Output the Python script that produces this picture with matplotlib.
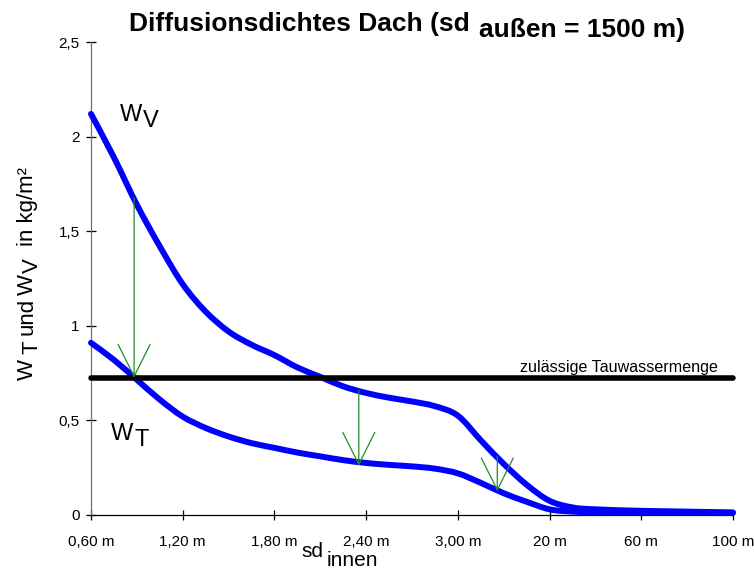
import matplotlib
matplotlib.use('Agg')
from matplotlib import pyplot as plt
from matplotlib.path import Path
from matplotlib.patches import PathPatch
from matplotlib.transforms import IdentityTransform

plt.rcParams['font.family'] = ['Liberation Sans', 'DejaVu Sans']

# category axis (sd innen)
x_labels = ['0,60 m', '1,20 m', '1,80 m', '2,40 m', '3,00 m', '20 m', '60 m', '100 m']

# curve readings, position measured in category steps
pos = [0, 0.25, 0.5, 0.75, 1, 1.25, 1.5, 1.75, 2, 2.25, 2.5, 2.75, 3, 3.25, 3.5,
       3.75, 4, 4.25, 4.5, 4.75, 5, 5.25, 5.5, 6, 6.5, 7]
w_v = [2.12, 1.89, 1.64, 1.42, 1.22, 1.075, 0.97, 0.90, 0.845, 0.78, 0.73, 0.68, 0.645,
       0.62, 0.60, 0.575, 0.525, 0.395, 0.27, 0.16, 0.075, 0.04, 0.03, 0.022, 0.018, 0.013]
w_t = [0.91, 0.82, 0.715, 0.61, 0.52, 0.46, 0.415, 0.38, 0.355, 0.33, 0.31, 0.29, 0.275,
       0.265, 0.257, 0.245, 0.22, 0.17, 0.115, 0.07, 0.03, 0.018, 0.014, 0.013, 0.013, 0.012]

grenzwert = 0.725  # zulaessige Tauwassermenge

# green arrows: position, from W_V down to W_T
arrow_pos = [0.47, 2.92, 4.43]
arrow_top = [1.675, 0.66, 0.31]
arrow_tip = [0.725, 0.26, 0.125]

y_ticks = [0, 0.5, 1, 1.5, 2, 2.5]
y_ticklabels = ['0', '0,5', '1', '1,5', '2', '2,5']

blue = '#0000ff'
green = '#1f8f1f'


def smooth_path(xs, ys):
    # smoothed line like the spreadsheet option (cubic Bezier through the points)
    n = len(xs)
    verts = [(xs[0], ys[0])]
    codes = [Path.MOVETO]
    for i in range(n - 1):
        a, b = max(i - 1, 0), min(i + 2, n - 1)
        c1 = (xs[i] + (xs[i + 1] - xs[a]) / 6, ys[i] + (ys[i + 1] - ys[a]) / 6)
        c2 = (xs[i + 1] - (xs[b] - xs[i]) / 6, ys[i + 1] - (ys[b] - ys[i]) / 6)
        verts += [c1, c2, (xs[i + 1], ys[i + 1])]
        codes += [Path.CURVE4] * 3
    return Path(verts, codes)


fig = plt.figure(figsize=(7.54, 5.71), dpi=100)
ax = fig.add_axes([91 / 754, 56 / 571, 642 / 754, 473 / 571])

for series in (w_v, w_t):
    ax.add_patch(PathPatch(smooth_path(pos, series), fill=False, edgecolor=blue,
                           lw=4.3, capstyle='round', joinstyle='round',
                           clip_on=False, zorder=3))
ax.plot([0, len(x_labels) - 1], [grenzwert, grenzwert], color='black', lw=4,
        solid_capstyle='round', clip_on=False, zorder=4)

for xp, top, tip in zip(arrow_pos, arrow_top, arrow_tip):
    ax.annotate('', xy=(xp, tip), xytext=(xp, top),
                arrowprops=dict(arrowstyle='->,head_length=2.3,head_width=1.15',
                                mutation_scale=10, color=green, lw=0.9,
                                shrinkA=0, shrinkB=0), zorder=5)

ax.text(6.83, 0.757, 'zulässige Tauwassermenge', ha='right', va='baseline',
        fontsize=11.6)

ax.set_xlim(0, len(x_labels) - 1)
ax.set_ylim(0, 2.5)
ax.set_xticks(range(len(x_labels)))
ax.set_xticklabels(x_labels)
ax.set_yticks(y_ticks)
ax.set_yticklabels(y_ticklabels)
ax.tick_params(direction='inout', length=6.5, width=0.9, labelsize=11)
ax.tick_params(axis='x', pad=11)
ax.tick_params(axis='y', pad=5)
ax.spines['top'].set_visible(False)
ax.spines['right'].set_visible(False)
ax.spines['left'].set_color('#707070')
ax.spines['bottom'].set_color('black')
ax.spines['left'].set_linewidth(0.9)
ax.spines['bottom'].set_linewidth(0.9)

renderer = fig.canvas.get_renderer()
H = 571


def rich_text(x, y, pieces, rotation=0, **kw):
    # pieces: (text, lowered by px, gap after in px)
    for s, drop, gap in pieces:
        if rotation == 0:
            t = fig.text(x, y - drop, s, transform=IdentityTransform(),
                         ha='left', va='baseline', **kw)
            x = t.get_window_extent(renderer).x1 + gap
        else:
            t = fig.text(x + drop, y, s, transform=IdentityTransform(),
                         rotation=90, rotation_mode='anchor',
                         ha='left', va='baseline', **kw)
            y = t.get_window_extent(renderer).y1 + gap


rich_text(129, H - 30.7, [('Diffusionsdichtes Dach (sd', 0, 9),
                          ('außen = 1500 m)', 6, 0)],
          fontsize=19, fontweight='bold')
rich_text(33, H - 380, [('W', 0, 5), ('T', 5, 5), ('und', 0, 3), ('W', 0, 1),
                        ('V', 5, 12), ('in kg/m²', 0, 0)],
          rotation=90, fontsize=16)
rich_text(301, H - 557, [('sd', 0, 4), ('innen', 9, 0)], fontsize=15)
rich_text(120, H - 121, [('W', 0, 1), ('V', 6, 0)], fontsize=17)
rich_text(111, H - 440, [('W', 0, 1), ('T', 6, 0)], fontsize=17)

fig.savefig('out.png', dpi=100)
